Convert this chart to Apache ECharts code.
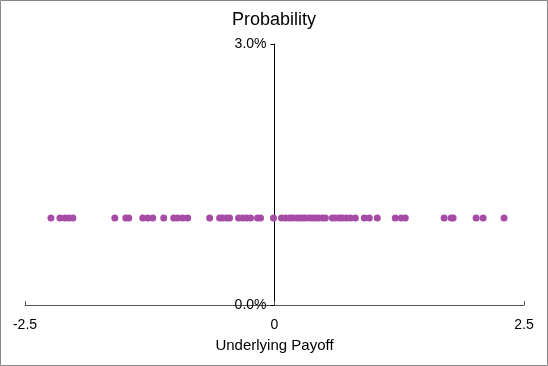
<!DOCTYPE html>
<html lang="en">
<head>
    <meta charset="UTF-8">
    <title>Probability</title>
    <script src="https://cdn.jsdelivr.net/npm/echarts@6/dist/echarts.min.js"></script>
    <style>
        html,body{margin:0;padding:0;background:#fff;}
        #main{width:548px;height:366px;}
    </style>
</head>
<body>
<div id="main"></div>
<script>
    // underlying payoff values (x), each with the same probability
    var payoffs=[-2.24,-2.15,-2.10,-2.06,-2.02,-1.60,-1.49,-1.46,-1.32,-1.27,-1.22,-1.11,
        -1.01,-0.97,-0.92,-0.87,-0.65,-0.55,-0.52,-0.48,-0.45,-0.36,-0.32,-0.28,-0.24,-0.17,-0.14,-0.01,
        0.07,0.11,0.15,0.18,0.22,0.25,0.28,0.31,0.35,0.38,0.41,0.44,0.48,0.51,0.58,0.61,0.65,0.68,
        0.72,0.76,0.81,0.90,0.95,1.03,1.21,1.27,1.31,1.70,1.77,1.79,2.02,2.09,2.30];
    var probability=0.01;
    var xTicks=[-2.5,0,2.5];
    var yTicks=[0,0.03];

    var points=[];
    for(var i=0;i<payoffs.length;i++){
        points.push([payoffs[i],probability]);
    }

    var font='Liberation Sans, Arial, sans-serif';
    var gridLeft=25,gridRight=24;
    // shift y axis from grid left edge to x = 0
    var yOffset=-(548-gridLeft-gridRight)/2;

    var chart=echarts.init(document.getElementById('main'));
    chart.setOption({
        animation:false,
        textStyle:{fontFamily:font},
        title:{
            text:'Probability',
            left:'center',
            top:6,
            textStyle:{fontSize:18,fontWeight:'normal',color:'#000',fontFamily:font}
        },
        graphic:[{
            type:'rect',
            shape:{x:0.5,y:0.5,width:547,height:365},
            style:{fill:'none',stroke:'#888',lineWidth:1},
            silent:true
        }],
        grid:{left:gridLeft,right:gridRight,top:44,bottom:61,outerBoundsMode:'none',containLabel:false},
        xAxis:{
            type:'value',
            min:xTicks[0],
            max:xTicks[2],
            interval:2.5,
            name:'Underlying Payoff',
            nameLocation:'middle',
            nameGap:33,
            nameTextStyle:{fontSize:15,color:'#000',fontFamily:font},
            splitLine:{show:false},
            axisLine:{onZero:false,lineStyle:{color:'#555',width:1}},
            axisTick:{show:true,inside:true,length:4,lineStyle:{color:'#555'}},
            axisLabel:{fontSize:14,color:'#000',margin:13,fontFamily:font,
                formatter:function(v){return v==0?'0':v.toFixed(1);}}
        },
        yAxis:{
            type:'value',
            min:yTicks[0],
            max:yTicks[1],
            interval:0.03,
            offset:yOffset,
            splitLine:{show:false},
            axisLine:{show:true,onZero:false,lineStyle:{color:'#000',width:1}},
            axisTick:{show:true,length:4,lineStyle:{color:'#000'}},
            axisLabel:{fontSize:14,color:'#000',margin:8,fontFamily:font,
                formatter:function(v){return (v*100).toFixed(1)+'%';}}
        },
        series:[{
            type:'scatter',
            data:points,
            symbolSize:7,
            itemStyle:{color:'#A64CA6',opacity:1}
        }]
    });
</script>
</body>
</html>
